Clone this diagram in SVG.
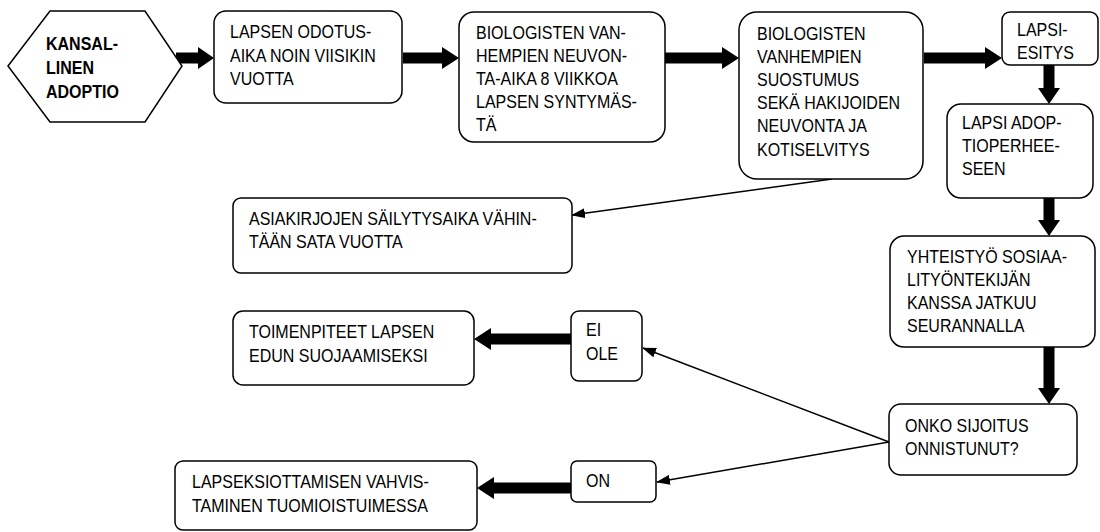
<svg xmlns="http://www.w3.org/2000/svg" width="1100" height="532" viewBox="0 0 1100 532">
<style>
.box{fill:#fff;stroke:#000;stroke-width:1.5}
.t{font-family:"Liberation Sans",Arial,sans-serif;font-size:18px;fill:#000}
.b{font-weight:bold}
.thick{fill:#000}
.thin{stroke:#000;stroke-width:1.5;fill:none;marker-end:url(#ah)}
</style>
<defs>
<marker id="ah" markerWidth="14" markerHeight="10" refX="13" refY="5" orient="auto" markerUnits="userSpaceOnUse">
<path d="M0,0 L14,5 L0,10 z" fill="#000"/>
</marker>
</defs>
<rect width="1100" height="532" fill="#fff"/>

<g id="connectors">
<path class="thick" d="M176,52.5 H198 V47 L214,58 L198,69 V63.5 H176 z"/>
<path class="thick" d="M403,52.5 H442 V47 L459,58 L442,69 V63.5 H403 z"/>
<path class="thick" d="M665,52.5 H722 V47 L739,58 L722,69 V63.5 H665 z"/>
<path class="thick" d="M924,52.5 H985 V47 L1002,58 L985,69 V63.5 H924 z"/>
<path class="thick" d="M1043.5,65 V88 H1038 L1049,104 L1060,88 H1054.5 V65 z"/>
<path class="thick" d="M1043.5,198 V220 H1038 L1049,236 L1060,220 H1054.5 V198 z"/>
<path class="thick" d="M1043.5,347 V388 H1038 L1049,404 L1060,388 H1054.5 V347 z"/>
<path class="thick" d="M571,333.5 H491 V328 L474,339 L491,350 V344.5 H571 z"/>
<path class="thick" d="M571,482.5 H494 V477 L477,488 L494,499 V493.5 H571 z"/>
<line class="thin" x1="832" y1="179" x2="572" y2="215"/>
<line class="thin" x1="889" y1="442" x2="643" y2="348"/>
<line class="thin" x1="889" y1="442" x2="657" y2="482"/>
</g>

<g id="n-kansallinen">
<polygon class="box" points="8,66 50,11 145,11 182,66 145,122 50,122"/>
<g transform="translate(46,0) scale(0.89,1)">
<text class="t b" x="0" y="50">KANSAL-</text>
<text class="t b" x="0" y="74">LINEN</text>
<text class="t b" x="0" y="98">ADOPTIO</text>
</g>
</g>

<g id="n-odotusaika">
<rect class="box" x="214" y="11" width="188" height="92" rx="12"/>
<g transform="translate(230,0) scale(0.89,1)">
<text class="t" x="0" y="38">LAPSEN ODOTUS-</text>
<text class="t" x="0" y="62">AIKA NOIN VIISIKIN</text>
<text class="t" x="0" y="85">VUOTTA</text>
</g>
</g>

<g id="n-neuvonta-aika">
<rect class="box" x="459" y="12" width="206" height="130" rx="15"/>
<g transform="translate(476,0) scale(0.89,1)">
<text class="t" x="0" y="39">BIOLOGISTEN VAN-</text>
<text class="t" x="0" y="62">HEMPIEN NEUVON-</text>
<text class="t" x="0" y="85">TA-AIKA 8 VIIKKOA</text>
<text class="t" x="0" y="108">LAPSEN SYNTYMÄS-</text>
<text class="t" x="0" y="131">TÄ</text>
</g>
</g>

<g id="n-suostumus">
<rect class="box" x="739" y="12" width="184" height="167" rx="18"/>
<g transform="translate(757,0) scale(0.89,1)">
<text class="t" x="0" y="40">BIOLOGISTEN</text>
<text class="t" x="0" y="63">VANHEMPIEN</text>
<text class="t" x="0" y="86">SUOSTUMUS</text>
<text class="t" x="0" y="109">SEKÄ HAKIJOIDEN</text>
<text class="t" x="0" y="132">NEUVONTA JA</text>
<text class="t" x="0" y="156">KOTISELVITYS</text>
</g>
</g>

<g id="n-lapsiesitys">
<rect class="box" x="1002" y="12" width="96" height="53" rx="8"/>
<g transform="translate(1017,0) scale(0.89,1)">
<text class="t" x="0" y="36">LAPSI-</text>
<text class="t" x="0" y="59">ESITYS</text>
</g>
</g>

<g id="n-adoptioperhe">
<rect class="box" x="947" y="104" width="146" height="94" rx="14"/>
<g transform="translate(962,0) scale(0.89,1)">
<text class="t" x="0" y="129">LAPSI ADOP-</text>
<text class="t" x="0" y="152">TIOPERHEE-</text>
<text class="t" x="0" y="175">SEEN</text>
</g>
</g>

<g id="n-yhteistyo">
<rect class="box" x="890" y="236" width="205" height="111" rx="14"/>
<g transform="translate(907,0) scale(0.89,1)">
<text class="t" x="0" y="263">YHTEISTYÖ SOSIAA-</text>
<text class="t" x="0" y="286">LITYÖNTEKIJÄN</text>
<text class="t" x="0" y="309">KANSSA JATKUU</text>
<text class="t" x="0" y="332">SEURANNALLA</text>
</g>
</g>

<g id="n-onko">
<rect class="box" x="889" y="404" width="188" height="71" rx="12"/>
<g transform="translate(905,0) scale(0.89,1)">
<text class="t" x="0" y="432">ONKO SIJOITUS</text>
<text class="t" x="0" y="455">ONNISTUNUT?</text>
</g>
</g>

<g id="n-asiakirjat">
<rect class="box" x="233" y="198" width="339" height="75" rx="8"/>
<g transform="translate(249,0) scale(0.89,1)">
<text class="t" x="0" y="225">ASIAKIRJOJEN SÄILYTYSAIKA VÄHIN-</text>
<text class="t" x="0" y="248">TÄÄN SATA VUOTTA</text>
</g>
</g>

<g id="n-eiole">
<rect class="box" x="571" y="311" width="71" height="70" rx="8"/>
<g transform="translate(586,0) scale(0.89,1)">
<text class="t" x="0" y="336">EI</text>
<text class="t" x="0" y="360">OLE</text>
</g>
</g>

<g id="n-toimenpiteet">
<rect class="box" x="233" y="311" width="241" height="74" rx="10"/>
<g transform="translate(249,0) scale(0.89,1)">
<text class="t" x="0" y="338">TOIMENPITEET LAPSEN</text>
<text class="t" x="0" y="362">EDUN SUOJAAMISEKSI</text>
</g>
</g>

<g id="n-on">
<rect class="box" x="571" y="461" width="85" height="41" rx="6"/>
<g transform="translate(586,0) scale(0.89,1)">
<text class="t" x="0" y="487">ON</text>
</g>
</g>

<g id="n-vahvistaminen">
<rect class="box" x="175" y="461" width="302" height="69" rx="8"/>
<g transform="translate(192,0) scale(0.89,1)">
<text class="t" x="0" y="488">LAPSEKSIOTTAMISEN VAHVIS-</text>
<text class="t" x="0" y="512">TAMINEN TUOMIOISTUIMESSA</text>
</g>
</g>
</svg>
